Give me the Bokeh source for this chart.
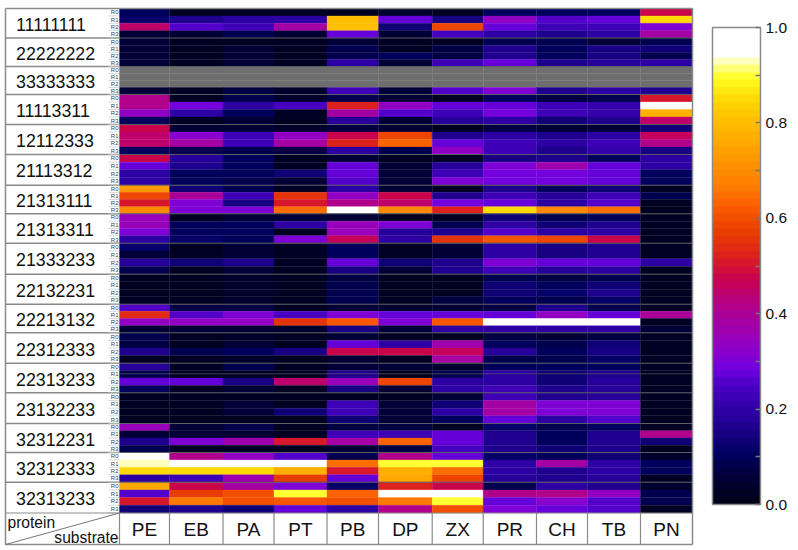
from bokeh.plotting import figure
from bokeh.models import ColumnDataSource, Range1d, LinearColorMapper, ColorBar, FixedTicker
from bokeh.core.properties import value
from bokeh.embed import file_html
from bokeh.resources import INLINE
import numpy as np

substrates = ["PE", "EB", "PA", "PT", "PB", "DP", "ZX", "PR", "CH", "TB", "PN"]
proteins = ["11111111", "22222222", "33333333", "11113311", "12112333", "21113312",
            "21313111", "21313311", "21333233", "22132231", "22213132", "22312333",
            "22313233", "23132233", "32312231", "32312333", "32313233"]
rounds = ["R0", "R1", "R2", "R3"]
N = float("nan")

g01 = [[.10,.03,.03,.03,.03,.04,.02,.10,.10,.10,.47],
       [.12,.16,.20,.20,.80,.27,.15,.33,.26,.27,.85],
       [.45,.26,.22,.38,.80,.14,.58,.27,.22,.22,.30],
       [.06,.06,.08,.05,.27,.06,.24,.20,.17,.20,.38]]
g02 = [[.05,.02,.02,.02,.05,.02,.02,.08,.08,.06,.08],
       [.05,.02,.05,.02,.08,.03,.07,.17,.10,.15,.13],
       [.05,.02,.05,.02,.08,.10,.07,.17,.10,.15,.08],
       [.05,.03,.05,.03,.20,.05,.22,.27,.17,.18,.20]]
g03 = [[N]*11, [N]*11, [N]*11,
       [.05,.03,.07,.04,.22,.05,.25,.30,.16,.20,.17]]
g04 = [[.42,.03,.08,.04,.09,.06,.02,.10,.07,.08,.50],
       [.42,.29,.20,.24,.52,.33,.27,.28,.22,.21,1.0],
       [.33,.20,.10,.03,.38,.25,.22,.29,.22,.21,.78],
       [.10,.03,.06,.03,.18,.05,.18,.20,.14,.17,.45]]
g05 = [[.48,.06,.05,.04,.07,.05,.02,.07,.06,.06,.14],
       [.45,.32,.22,.33,.48,.58,.16,.20,.16,.19,.46],
       [.45,.38,.22,.38,.53,.63,.28,.22,.19,.22,.42],
       [.10,.08,.08,.07,.20,.08,.33,.22,.16,.21,.15]]
g06 = [[.47,.18,.10,.03,.06,.03,.03,.15,.17,.10,.20],
       [.27,.16,.10,.03,.28,.05,.18,.30,.37,.28,.20],
       [.20,.10,.10,.13,.28,.05,.22,.29,.29,.28,.10],
       [.20,.10,.08,.06,.26,.05,.31,.29,.29,.28,.10]]
g07 = [[.72,.13,.08,.03,.20,.05,.02,.17,.10,.14,.02],
       [.58,.40,.22,.55,.33,.48,.16,.23,.18,.22,.08],
       [.50,.31,.15,.50,.42,.45,.29,.27,.20,.25,.03],
       [.70,.31,.31,.65,1.0,.70,.53,.85,.70,.65,.03]]
g08 = [[.35,.03,.06,.05,.05,.03,.03,.13,.08,.10,.02],
       [.35,.10,.10,.20,.35,.30,.08,.20,.13,.16,.02],
       [.30,.10,.10,.03,.35,.18,.17,.25,.20,.20,.02],
       [.20,.12,.10,.31,.46,.20,.55,.62,.58,.47,.02]]
g09 = [[.12,.03,.05,.02,.10,.03,.06,.20,.15,.17,.02],
       [.06,.03,.05,.02,.10,.03,.06,.20,.15,.17,.02],
       [.18,.14,.17,.02,.28,.13,.17,.30,.27,.28,.20],
       [.08,.03,.05,.02,.15,.05,.16,.22,.18,.20,.03]]
g10 = [[.03,.03,.04,.03,.07,.03,.03,.08,.07,.08,.02],
       [.03,.03,.04,.03,.08,.03,.03,.14,.10,.13,.02],
       [.03,.03,.04,.03,.08,.03,.03,.14,.12,.16,.02],
       [.03,.03,.04,.03,.08,.03,.07,.10,.08,.11,.02]]
g11 = [[.25,.07,.07,.03,.05,.04,.05,.07,.16,.08,.02],
       [.54,.26,.30,.24,.31,.27,.27,.28,.33,.28,.40],
       [.33,.33,.33,.55,.62,.30,.62,1.0,1.0,1.0,.03],
       [.05,.05,.05,.04,.15,.05,.20,.20,.20,.20,.06]]
g12 = [[.08,.03,.04,.03,.05,.03,.02,.07,.05,.07,.02],
       [.07,.03,.06,.03,.28,.20,.37,.10,.08,.14,.02],
       [.16,.08,.10,.15,.47,.47,.46,.18,.10,.15,.02],
       [.03,.03,.04,.03,.06,.03,.38,.08,.08,.12,.02]]
g13 = [[.18,.03,.08,.03,.06,.06,.04,.10,.10,.10,.02],
       [.08,.03,.03,.03,.17,.03,.08,.20,.13,.16,.02],
       [.27,.27,.15,.45,.35,.58,.20,.20,.13,.18,.02],
       [.10,.03,.05,.03,.15,.05,.20,.22,.17,.18,.02]]
g14 = [[.02,.02,.03,.02,.03,.02,.05,.22,.16,.18,.02],
       [.02,.02,.06,.02,.22,.05,.14,.38,.31,.31,.02],
       [.02,.02,.06,.14,.22,.05,.20,.38,.31,.31,.02],
       [.02,.02,.03,.03,.14,.05,.10,.28,.20,.25,.02]]
g15 = [[.35,.05,.08,.02,.07,.07,.02,.12,.08,.10,.03],
       [.06,.05,.05,.02,.22,.22,.28,.16,.10,.16,.42],
       [.17,.30,.36,.50,.38,.63,.28,.16,.10,.16,.13],
       [.08,.02,.02,.03,.06,.07,.24,.16,.14,.17,.03]]
g16 = [[1.0,.42,.33,.26,.08,.42,.27,.12,.10,.13,.04],
       [.93,1.0,1.0,1.0,.65,.90,.90,.20,.38,.20,.10],
       [.85,.85,.85,.78,.50,.78,.65,.20,.16,.20,.10],
       [.20,.22,.36,.57,.28,.75,.58,.18,.17,.18,.03]]
g17 = [[.75,.47,.38,.30,.12,.52,.48,.08,.20,.16,.04],
       [.25,.57,.60,.90,.64,1.0,1.0,.42,.42,.33,.08],
       [.50,.66,.60,.62,.60,.66,.90,.28,.32,.25,.08],
       [.13,.16,.14,.27,.20,.42,.60,.30,.27,.26,.03]]
groups = [g01, g02, g03, g04, g05, g06, g07, g08, g09, g10, g11, g12, g13, g14, g15, g16, g17]

# Layout of the table, in page pixels
W, H = 796, 548
col_edges = [119, 169, 222.5, 273.5, 326.5, 378, 431.7, 482.7, 536, 587, 640, 692]
row_edges = [8, 37.5, 66, 94, 124, 154, 184.7, 213.3, 242.7, 273.7, 303.7, 332.3,
             362.7, 392.3, 423, 452, 481.7, 512.5]
table_left, table_bottom, head_top = 5, 544, 512.5
GREY = "#8a8a8a"
FONT = value("Liberation Sans")

anchors = [(0.00, "#000018"), (0.05, "#000038"), (0.10, "#000060"), (0.15, "#1c0088"),
           (0.20, "#3000a8"), (0.25, "#5000c8"), (0.28, "#7000e0"), (0.32, "#8c00cc"),
           (0.38, "#a400a4"), (0.42, "#b40084"), (0.47, "#c80050"), (0.52, "#dc2020"),
           (0.57, "#e83c00"), (0.62, "#f85800"), (0.67, "#ff7c00"), (0.72, "#ff9400"),
           (0.78, "#ffb000"), (0.85, "#ffd400"), (0.90, "#ffff20"), (0.93, "#ffffa0"),
           (0.95, "#ffffff"), (1.00, "#ffffff")]


def rgb(h):
    return [int(h[i:i + 2], 16) for i in (1, 3, 5)]


steps = np.linspace(0, 1, 64)
pos = [a[0] for a in anchors]
cols = np.array([rgb(a[1]) for a in anchors], dtype=float)
palette = ["#%02x%02x%02x" % tuple(int(round(np.interp(s, pos, cols[:, k]))) for k in range(3))
           for s in steps]
mapper = LinearColorMapper(palette=palette, low=0, high=1, nan_color="#6e6e6e")

left, right, top, bottom, vals = [], [], [], [], []
rl_y, rl_t, tick_y = [], [], []
for g, rows in enumerate(groups):
    y0, y1 = row_edges[g], row_edges[g + 1]
    h = (y1 - y0) / 4
    for r, row in enumerate(rows):
        rl_y.append(y0 + (r + 0.5) * h)
        rl_t.append(rounds[r])
        tick_y.append(y0 + (r + 1) * h)
        for c, v in enumerate(row):
            left.append(col_edges[c]); right.append(col_edges[c + 1])
            top.append(y0 + r * h); bottom.append(y0 + (r + 1) * h)
            vals.append(v)

p = figure(width=W, height=H, x_range=Range1d(0, W), y_range=Range1d(H, 0),
           x_axis_type=None, y_axis_type=None, toolbar_location=None, output_backend="svg",
           min_border=0, outline_line_color=None, background_fill_color="white",
           border_fill_color="white")
p.grid.visible = False

src = ColumnDataSource(dict(left=left, right=right, top=top, bottom=bottom, v=vals))
fill = {"field": "v", "transform": mapper}
p.quad(left="left", right="right", top="top", bottom="bottom", source=src,
       fill_color=fill, line_color=fill, line_width=0.3)

# Group separators
mid_y = row_edges[1:-1]
p.segment(x0=[table_left] * len(mid_y), x1=[col_edges[0]] * len(mid_y), y0=mid_y, y1=mid_y,
          line_color=GREY, line_width=1.5)
p.segment(x0=[col_edges[0]] * len(mid_y), x1=[col_edges[-1]] * len(mid_y), y0=mid_y, y1=mid_y,
          line_color="#5c5c66", line_width=1)
p.segment(x0=[col_edges[0]], x1=[col_edges[-1]], y0=[373.3], y1=[373.3], line_color="#5c5c66", line_width=0.7)

# Little round-label rules and labels
p.segment(x0=[108] * len(tick_y), x1=[col_edges[0]] * len(tick_y), y0=tick_y, y1=tick_y,
          line_color="#c4c4c4", line_width=0.7)
p.text(x=[118] * len(rl_y), y=rl_y, text=rl_t, text_font=FONT, text_font_size="6px",
       text_color="#444444", text_align="right", text_baseline="middle")

# Table frame
p.segment(x0=[table_left, table_left, table_left, col_edges[-1]],
          x1=[col_edges[-1], col_edges[-1], table_left, col_edges[-1]],
          y0=[row_edges[0], table_bottom, row_edges[0], row_edges[0]],
          y1=[row_edges[0], table_bottom, table_bottom, table_bottom],
          line_color=GREY, line_width=1.5)
p.segment(x0=col_edges[:-1], x1=col_edges[:-1], y0=[head_top] * 11, y1=[table_bottom] * 11,
          line_color=GREY, line_width=1.2)
p.segment(x0=[table_left, table_left], x1=[col_edges[-1], col_edges[0]], y0=[head_top, table_bottom],
          y1=[head_top, head_top], line_color=[GREY, "#777777"], line_width=1)

# Row and column labels
lab_y = [(row_edges[i] + row_edges[i + 1]) / 2 + 1 for i in range(len(proteins))]
p.text(x=[15.5] * len(proteins), y=lab_y, text=proteins, text_font=FONT, text_font_size="17.8px",
       text_color="#111111", text_align="left", text_baseline="middle")
col_x = [(col_edges[i] + col_edges[i + 1]) / 2 for i in range(len(substrates))]
p.text(x=col_x, y=[529] * len(col_x), text=substrates, text_font=FONT, text_font_size="19px",
       text_color="#111111", text_align="center", text_baseline="middle")
p.text(x=[7], y=[522], text=["protein"], text_font=FONT, text_font_size="15.6px",
       text_color="#111111", text_align="left", text_baseline="middle")
p.text(x=[118], y=[537], text=["substrate"], text_font=FONT, text_font_size="15.6px",
       text_color="#111111", text_align="right", text_baseline="middle")

# Colour bar
bar_left, bar_right, bar_top, bar_bottom = 712, 760, 27, 504
ticks = [round(0.1 * i, 1) for i in range(11)]
bar = ColorBar(color_mapper=mapper, ticker=FixedTicker(ticks=ticks), width=bar_right - bar_left,
               height=bar_bottom - bar_top, location=(bar_left, H - bar_bottom), padding=0,
               margin=0, bar_line_color=GREY, bar_line_width=1.5,
               major_tick_line_color="#777777", major_tick_in=5, major_tick_out=0,
               major_tick_line_width=1.5, minor_tick_line_color=None,
               major_label_text_font="Liberation Sans", major_label_text_font_size="15.5px",
               major_label_text_color="#111111", label_standoff=5, background_fill_color=None,
               border_line_color=None,
               major_label_overrides={t: ("" if i % 2 else "%.1f" % t) for i, t in enumerate(ticks)})
p.add_layout(bar)
inner = ticks[1:-1]
ty = [bar_bottom - t * (bar_bottom - bar_top) for t in inner]
p.segment(x0=[bar_left] * len(ty), x1=[bar_left + 5] * len(ty), y0=ty, y1=ty,
          line_color="#777777", line_width=1.5)
p.segment(x0=[bar_left], x1=[bar_right], y0=[368], y1=[368], line_color="#9a80d0", line_width=0.7)

open("out.html", "w").write(file_html(p, INLINE))
